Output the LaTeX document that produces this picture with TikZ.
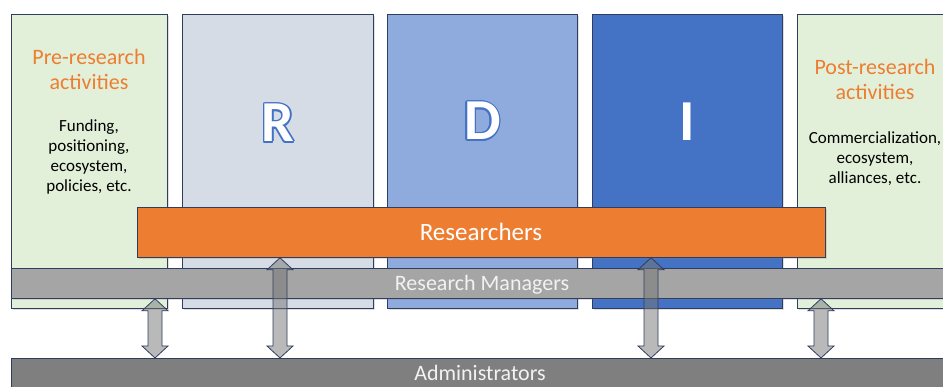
\documentclass[tikz,border=0pt]{standalone}
\usepackage{fontspec}
\setmainfont{Carlito}
\usetikzlibrary{calc,shadows}

\definecolor{edge}{RGB}{47,62,95}
\definecolor{paleGreen}{RGB}{226,240,217}
\definecolor{rFill}{RGB}{214,220,229}
\definecolor{dFill}{RGB}{143,170,220}
\definecolor{iFill}{RGB}{68,114,196}
\definecolor{accent}{RGB}{237,125,49}
\definecolor{mgrGray}{RGB}{165,165,165}
\definecolor{admGray}{RGB}{127,127,127}
\definecolor{arrowGray}{RGB}{116,116,116}
\definecolor{barText}{RGB}{242,242,242}
\definecolor{glow}{RGB}{68,114,196}

% two-headed block arrow between two named points (top, bottom)
\newcommand\twoway[2]{%
  \draw[blockarrow] (#1) -- ++(13,12) -- ++(-6,0) -- ($(#2)+(7,-12)$)
    -- ++(6,0) -- (#2) -- ++(-13,-12) -- ++(6,0) -- ($(#1)+(-7,12)$)
    -- ++(-6,0) -- cycle;}

\begin{document}
\begin{tikzpicture}[x=1pt,y=-1pt,
  box/.style={draw=edge, line width=0.8pt, anchor=north west, inner sep=0pt,
    drop shadow={shadow xshift=1.6pt, shadow yshift=-1.8pt, opacity=0.25}},
  title/.style={anchor=base, text=accent, font=\fontsize{22}{25}\selectfont},
  body/.style={anchor=base, text=black, font=\fontsize{17}{20}\selectfont},
  bigletter/.style={inner sep=0pt, font=\bfseries\fontsize{58}{60}\selectfont},
  bartext/.style={anchor=base, text=barText, font=\fontsize{22}{25}\selectfont},
  blockarrow/.style={draw=edge, line width=0.8pt, fill=arrowGray, fill opacity=0.5, line join=miter}]

\clip (0,0) rectangle (943,387);
\fill[white] (0,0) rectangle (943,387);

% columns
\node[box, fill=paleGreen, minimum width=156pt, minimum height=294pt] (pre)  at (11,14)  {};
\node[box, fill=rFill,     minimum width=191pt, minimum height=294pt] (rbox) at (182,14) {};
\node[box, fill=dFill,     minimum width=190pt, minimum height=294pt] (dbox) at (387,14) {};
\node[box, fill=iFill,     minimum width=190pt, minimum height=294pt] (ibox) at (592,14) {};
\node[box, fill=paleGreen, minimum width=156pt, minimum height=294pt] (post) at (797,14) {};

% pre-research text
\node[title] (preA) at (89,65) {Pre-research};
\node[title] (preB) at (89,90) {activities};
\node[body] (preC) at (89,132) {Funding,};
\node[body] (preD) at (89,152) {positioning,};
\node[body] (preE) at (89,172) {ecosystem,};
\node[body] (preF) at (89,192) {policies, etc.};

% post-research text
\node[title] (postA) at (875,75)  {Post-research};
\node[title] (postB) at (875,100) {activities};
\node[body] (postC) at (875,144) {Commercialization,};
\node[body] (postD) at (875,164) {ecosystem,};
\node[body] (postE) at (875,184) {alliances, etc.};

% R, D and I letters with a blue rim
\foreach \a in {0,30,...,330}{
  \node[bigletter, text=glow] at ($(rbox.north)+(0,109)+(\a:1.5)$) {R};
  \node[bigletter, text=glow] at ($(dbox.north)+(0,107)+(\a:1.5)$) {D};
}
\node[bigletter, text=white] (rlet) at ($(rbox.north)+(0,109)$) {R};
\node[bigletter, text=white] (dlet) at ($(dbox.north)+(0,107)$) {D};
\node[bigletter, text=white] (ilet) at ($(ibox.north)+(0,108)$) {I};

% horizontal bars
\node[box, fill=accent,  minimum width=688pt, minimum height=50pt] (res) at (137,207) {};
\node[bartext, text=white, font=\fontsize{25}{28}\selectfont] (resT) at (481,241) {Researchers};
\node[box, fill=mgrGray, minimum width=942pt, minimum height=30pt] (mgr) at (11,268) {};
\node[bartext] (mgrT) at (482,291) {Research Managers};
\node[box, fill=admGray, minimum width=942pt, minimum height=30pt] (adm) at (11,358) {};
\node[bartext] (admT) at (480,381) {Administrators};

% links down to the administrators
\coordinate (a1t) at (mgr.south -| 155,0);  \coordinate (a1b) at (adm.north -| 155,0);
\coordinate (a2t) at (res.south -| 280,0);  \coordinate (a2b) at (adm.north -| 280,0);
\coordinate (a3t) at (res.south -| 651,0);  \coordinate (a3b) at (adm.north -| 651,0);
\coordinate (a4t) at (mgr.south -| 821,0);  \coordinate (a4b) at (adm.north -| 821,0);
\twoway{a1t}{a1b}
\twoway{a2t}{a2b}
\twoway{a3t}{a3b}
\twoway{a4t}{a4b}
\end{tikzpicture}
\end{document}
